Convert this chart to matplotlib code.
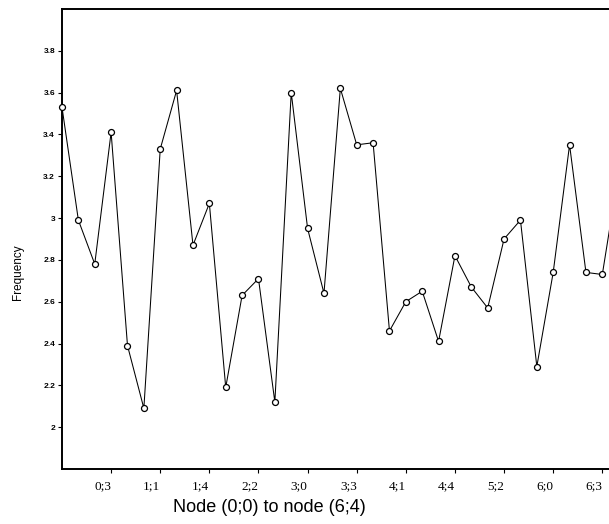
import matplotlib
matplotlib.use("Agg")
import matplotlib.pyplot as plt

# Nodes (i;j), i = 0..6, j = 0..4
NODES = [f"{i};{j}" for i in range(7) for j in range(5)]

FREQ = [
    3.53, 2.99, 2.78, 3.41, 2.39, 2.09, 3.33, 3.61, 2.87, 3.07,
    2.19, 2.63, 2.71, 2.12, 3.60, 2.95, 2.64, 3.62, 3.35, 3.36,
    2.46, 2.60, 2.65, 2.41, 2.82, 2.67, 2.57, 2.90, 2.99, 2.29,
    2.74, 3.35, 2.74, 2.73, 3.22,
]

YTICKS = [2.0, 2.2, 2.4, 2.6, 2.8, 3.0, 3.2, 3.4, 3.6, 3.8]
YTICK_LABELS = ["2", "2.2", "2.4", "2.6", "2.8", "3", "3.2", "3.4", "3.6", "3.8"]
XTICK_IDX = list(range(3, 34, 3))

fig = plt.figure(figsize=(6.09, 5.24), dpi=100)
# axes run past the right edge of the figure, as in the cropped original
ax = fig.add_axes([0.1018, 0.105, 0.941, 0.878])

x = list(range(len(FREQ)))
ax.plot(x, FREQ, color="black", lw=0.75, marker="o", ms=4.3,
        mfc="white", mec="black", mew=0.9, clip_on=False, zorder=3)

ax.set_xlim(0, 35)
ax.set_ylim(1.8, 4.0)

ax.set_yticks(YTICKS)
ax.set_yticklabels(YTICK_LABELS, fontsize=6, fontweight="bold",
                   family="Liberation Sans")
ax.set_xticks(XTICK_IDX)
ax.set_xticklabels([NODES[i] for i in XTICK_IDX], fontsize=9.5,
                   family="Liberation Serif", ha="right")
ax.tick_params(axis="y", length=3, width=0.8, pad=2)
ax.tick_params(axis="x", length=3, width=0.8, pad=5)

for side in ("left", "bottom", "top"):
    ax.spines[side].set_linewidth(1.4)
ax.spines["right"].set_visible(False)

fig.text(0.030, 0.48, "Frequency", rotation=90, ha="center", va="center",
         fontsize=8.5, family="Liberation Sans")
fig.text(0.443, 0.031, "Node (0;0) to node (6;4)", ha="center", va="center",
         fontsize=13, family="Liberation Sans")

fig.savefig("out.png", dpi=100)
